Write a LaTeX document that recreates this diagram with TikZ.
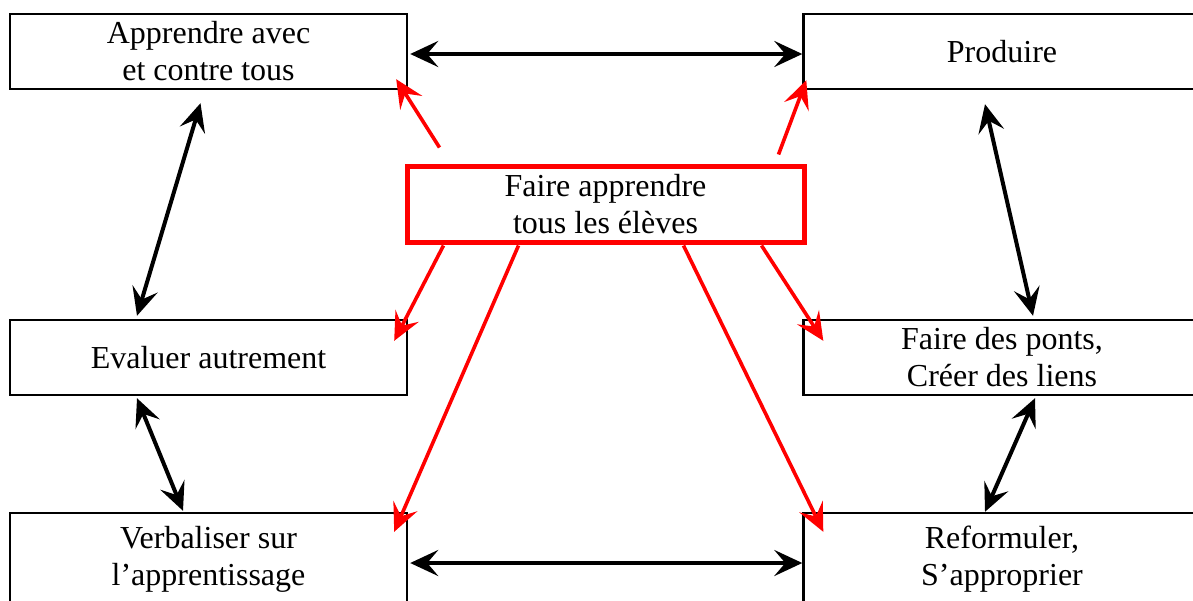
\documentclass[tikz,border=0pt]{standalone}
\usepackage{fontspec}
\setmainfont{Liberation Serif}
\usetikzlibrary{arrows.meta}
\begin{document}
\begin{tikzpicture}[x=0.5pt,y=-0.5pt,
  box/.style={draw=black,line width=1.2pt,minimum width=198.5pt,minimum height=37.5pt,inner sep=0pt,align=center,font=\fontsize{16}{18.5}\selectfont},
  redbox/.style={draw=red,line width=2.5pt,minimum width=198.5pt,minimum height=38pt,inner sep=0pt,align=center,font=\fontsize{16}{18.5}\selectfont},
  tip/.style={Stealth[length=14pt,width=13pt,inset=5.5pt]},
  biarrow/.style={line width=2pt,{Stealth[length=14pt,width=13pt,inset=5.5pt]}-{Stealth[length=14pt,width=13pt,inset=5.5pt]}},
  redarrow/.style={draw=red,line width=1.8pt,-{Stealth[length=14pt,width=13pt,inset=5.5pt]}}]
\useasboundingbox (0,0) rectangle (1193,600);
\clip (0,0) rectangle (1193,600);
\node[box] (tl) at (208.5,51.5) {Apprendre avec\\et contre tous};
\node[box] (tr) at (1002,51.5) {Produire};
\node[box] (ml) at (208.5,357.5) {Evaluer autrement};
\node[box] (mr) at (1002,357.5) {Faire des ponts,\\Créer des liens};
\node[box,minimum height=46pt] (bl) at (208.5,559) {Verbaliser sur\\l’apprentissage};
\node[box,minimum height=46pt] (br) at (1002,559) {Reformuler,\\S’approprier};
\node[redbox] (c) at (605.5,204) {Faire apprendre\\tous les élèves};
% black double arrows
\draw[biarrow] ([shift={(2,2.5)}]tl.east) -- ([shift={(0,2.5)}]tr.west);
\draw[biarrow] ([shift={(2,4)}]bl.east) -- ([shift={(0,4)}]br.west);
\draw[biarrow] ([shift={(-8,13)}]tl.south) -- ([shift={(-71.5,-3)}]ml.north);
\draw[biarrow] ([shift={(-71.5,2)}]ml.south) -- ([shift={(-25.5,-1)}]bl.north);
\draw[biarrow] ([shift={(-17,14)}]tr.south) -- ([shift={(31,-3)}]mr.north);
\draw[biarrow] ([shift={(33,2)}]mr.south) -- ([shift={(-17,0)}]br.north);
% red arrows
\draw[redarrow] ([shift={(35,-16)}]c.north west) -- ([shift={(-12,-11)}]tl.south east);
\draw[redarrow] ([shift={(-28,-9)}]c.north east) -- ([shift={(4,-10)}]tr.south west);
\draw[redarrow] ([shift={(39,1)}]c.south west) -- ([shift={(-14,22)}]ml.north east);
\draw[redarrow] ([shift={(-45,1)}]c.south east) -- ([shift={(21,22)}]mr.north west);
\draw[redarrow] ([shift={(114,1)}]c.south west) -- ([shift={(-14,20)}]bl.north east);
\draw[redarrow] ([shift={(-123,1)}]c.south east) -- ([shift={(21,20)}]br.north west);
\end{tikzpicture}
\end{document}
